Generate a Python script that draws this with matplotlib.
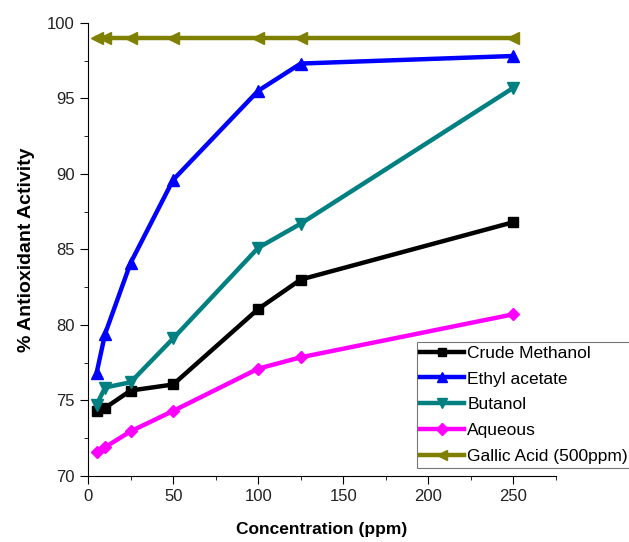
import matplotlib
matplotlib.use("Agg")
import matplotlib.pyplot as plt
from matplotlib.ticker import MultipleLocator

plt.rcParams['font.family'] = ['Liberation Sans', 'DejaVu Sans']

conc = [5, 10, 25, 50, 100, 125, 250]
crude_methanol = [74.3, 74.5, 75.65, 76.05, 81.05, 83.0, 86.8]
ethyl_acetate = [76.8, 79.4, 84.1, 89.6, 95.5, 97.3, 97.8]
butanol = [74.7, 75.85, 76.2, 79.1, 85.1, 86.7, 95.7]
aqueous = [71.6, 71.9, 72.95, 74.3, 77.1, 77.85, 80.7]
gallic_acid = [99.0, 99.0, 99.0, 99.0, 99.0, 99.0, 99.0]

series = [
    ("Crude Methanol", crude_methanol, "black", "s", 6.5),
    ("Ethyl acetate", ethyl_acetate, "#0000ff", "^", 8),
    ("Butanol", butanol, "#008080", "v", 8),
    ("Aqueous", aqueous, "#ff00ff", "D", 6.5),
    ("Gallic Acid (500ppm)", gallic_acid, "#808000", "<", 8),
]

fig = plt.figure(figsize=(6.29, 5.42), dpi=100)
ax = fig.add_axes([0.140, 0.122, 0.744, 0.836])

for name, vals, col, mk, ms in series:
    ax.plot(conc, vals, color=col, marker=mk, markersize=ms,
            linewidth=3.2, label=name)

ax.set_xlim(0, 275)
ax.set_ylim(70, 100)
ax.xaxis.set_major_locator(MultipleLocator(50))
ax.xaxis.set_minor_locator(MultipleLocator(25))
ax.yaxis.set_major_locator(MultipleLocator(5))
ax.yaxis.set_minor_locator(MultipleLocator(2.5))
ax.spines['top'].set_visible(False)
ax.spines['right'].set_visible(False)
ax.tick_params(which='major', direction='out', length=6, labelsize=12,
               labelcolor='#222222')
ax.tick_params(which='minor', direction='out', length=3)

ax.set_xlabel("Concentration (ppm)", fontsize=12.5, fontweight='bold', labelpad=13)
ax.set_ylabel("% Antioxidant Activity", fontsize=14, fontweight='bold', labelpad=9)

leg = ax.legend(loc='upper left', bbox_to_anchor=(0.663, 0.369),
                bbox_transform=fig.transFigure, fontsize=12.5, frameon=True,
                fancybox=False, edgecolor='#555555', handlelength=2.5,
                handletextpad=0.2, labelspacing=0.62, borderaxespad=0,
                borderpad=0.2, markerscale=0.9)
leg.get_frame().set_linewidth(0.8)

fig.savefig("out.png", dpi=100)
